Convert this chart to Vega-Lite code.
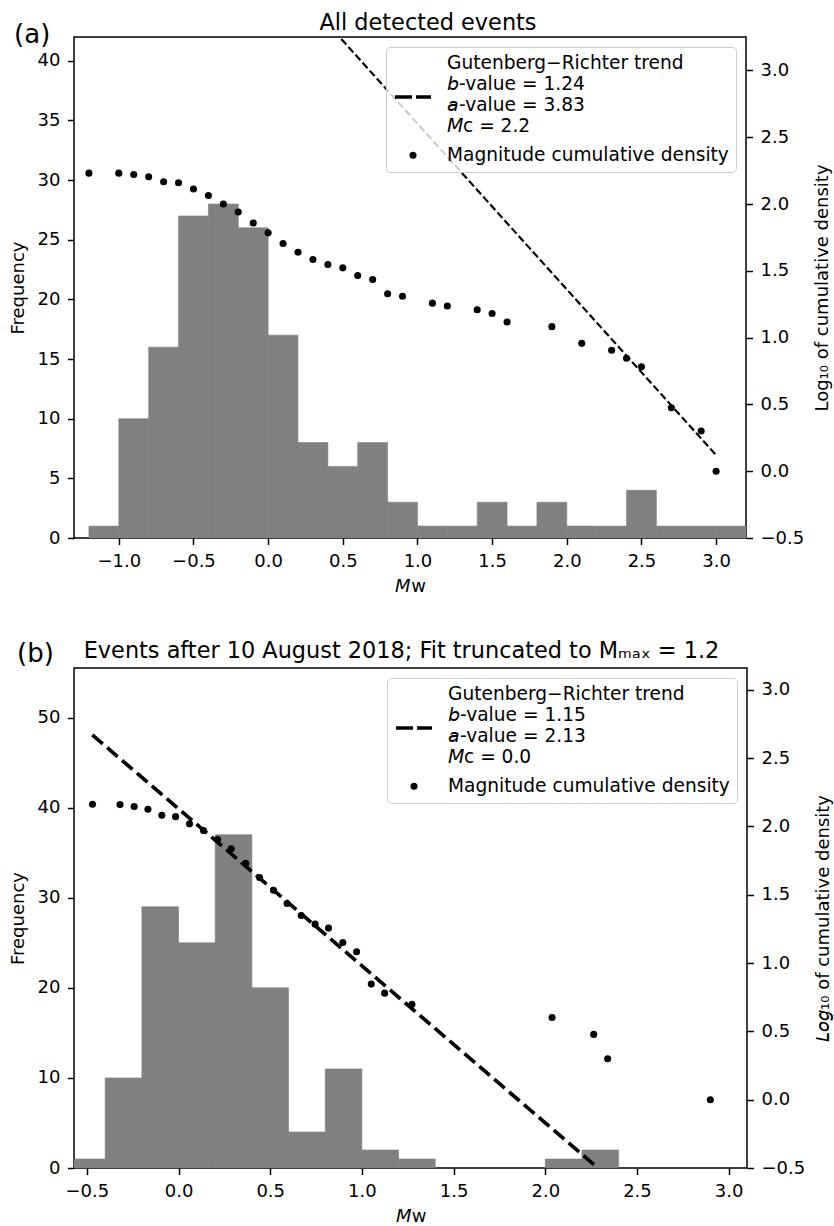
{
  "$schema": "https://vega.github.io/schema/vega-lite/v6.json",
  "background": "white",
  "padding": {"left": 8, "top": 11, "right": 5, "bottom": 5},
  "spacing": 43,
  "datasets": {
    "histA": [
      {"m0": -1.2, "m1": -1.0, "count": 1},
      {"m0": -1.0, "m1": -0.8, "count": 10},
      {"m0": -0.8, "m1": -0.6, "count": 16},
      {"m0": -0.6, "m1": -0.4, "count": 27},
      {"m0": -0.4, "m1": -0.2, "count": 28},
      {"m0": -0.2, "m1": 0.0, "count": 26},
      {"m0": 0.0, "m1": 0.2, "count": 17},
      {"m0": 0.2, "m1": 0.4, "count": 8},
      {"m0": 0.4, "m1": 0.6, "count": 6},
      {"m0": 0.6, "m1": 0.8, "count": 8},
      {"m0": 0.8, "m1": 1.0, "count": 3},
      {"m0": 1.0, "m1": 1.2, "count": 1},
      {"m0": 1.2, "m1": 1.4, "count": 1},
      {"m0": 1.4, "m1": 1.6, "count": 3},
      {"m0": 1.6, "m1": 1.8, "count": 1},
      {"m0": 1.8, "m1": 2.0, "count": 3},
      {"m0": 2.0, "m1": 2.2, "count": 1},
      {"m0": 2.2, "m1": 2.4, "count": 1},
      {"m0": 2.4, "m1": 2.6, "count": 4},
      {"m0": 2.6, "m1": 2.8, "count": 1},
      {"m0": 2.8, "m1": 3.0, "count": 1},
      {"m0": 3.0, "m1": 3.2, "count": 1}
    ],
    "ptsA": [
      {"m": -1.2, "logN": 2.231, "series": "mcd"},
      {"m": -1.0, "logN": 2.231, "series": "mcd"},
      {"m": -0.9, "logN": 2.221, "series": "mcd"},
      {"m": -0.8, "logN": 2.204, "series": "mcd"},
      {"m": -0.7, "logN": 2.166, "series": "mcd"},
      {"m": -0.6, "logN": 2.159, "series": "mcd"},
      {"m": -0.5, "logN": 2.112, "series": "mcd"},
      {"m": -0.4, "logN": 2.064, "series": "mcd"},
      {"m": -0.3, "logN": 2.000, "series": "mcd"},
      {"m": -0.2, "logN": 1.940, "series": "mcd"},
      {"m": -0.1, "logN": 1.858, "series": "mcd"},
      {"m": 0.0, "logN": 1.784, "series": "mcd"},
      {"m": 0.1, "logN": 1.704, "series": "mcd"},
      {"m": 0.2, "logN": 1.639, "series": "mcd"},
      {"m": 0.3, "logN": 1.584, "series": "mcd"},
      {"m": 0.4, "logN": 1.547, "series": "mcd"},
      {"m": 0.5, "logN": 1.522, "series": "mcd"},
      {"m": 0.6, "logN": 1.465, "series": "mcd"},
      {"m": 0.7, "logN": 1.435, "series": "mcd"},
      {"m": 0.8, "logN": 1.328, "series": "mcd"},
      {"m": 0.9, "logN": 1.310, "series": "mcd"},
      {"m": 1.1, "logN": 1.258, "series": "mcd"},
      {"m": 1.2, "logN": 1.236, "series": "mcd"},
      {"m": 1.4, "logN": 1.209, "series": "mcd"},
      {"m": 1.5, "logN": 1.181, "series": "mcd"},
      {"m": 1.6, "logN": 1.117, "series": "mcd"},
      {"m": 1.9, "logN": 1.082, "series": "mcd"},
      {"m": 2.1, "logN": 0.957, "series": "mcd"},
      {"m": 2.3, "logN": 0.905, "series": "mcd"},
      {"m": 2.4, "logN": 0.846, "series": "mcd"},
      {"m": 2.5, "logN": 0.781, "series": "mcd"},
      {"m": 2.7, "logN": 0.475, "series": "mcd"},
      {"m": 2.9, "logN": 0.301, "series": "mcd"},
      {"m": 3.0, "logN": 0.0, "series": "mcd"}
    ],
    "lineA": [
      {"m": 0.3, "logN": 3.47, "series": "gr"},
      {"m": 3.0, "logN": 0.12, "series": "gr"}
    ],
    "histB": [
      {"m0": -0.6, "m1": -0.4, "count": 1},
      {"m0": -0.4, "m1": -0.2, "count": 10},
      {"m0": -0.2, "m1": 0.0, "count": 29},
      {"m0": 0.0, "m1": 0.2, "count": 25},
      {"m0": 0.2, "m1": 0.4, "count": 37},
      {"m0": 0.4, "m1": 0.6, "count": 20},
      {"m0": 0.6, "m1": 0.8, "count": 4},
      {"m0": 0.8, "m1": 1.0, "count": 11},
      {"m0": 1.0, "m1": 1.2, "count": 2},
      {"m0": 1.2, "m1": 1.4, "count": 1},
      {"m0": 2.0, "m1": 2.2, "count": 1},
      {"m0": 2.2, "m1": 2.4, "count": 2}
    ],
    "ptsB": [
      {"m": -0.469, "logN": 2.162, "series": "mcd"},
      {"m": -0.319, "logN": 2.160, "series": "mcd"},
      {"m": -0.242, "logN": 2.146, "series": "mcd"},
      {"m": -0.167, "logN": 2.126, "series": "mcd"},
      {"m": -0.091, "logN": 2.082, "series": "mcd"},
      {"m": -0.016, "logN": 2.072, "series": "mcd"},
      {"m": 0.060, "logN": 2.019, "series": "mcd"},
      {"m": 0.136, "logN": 1.970, "series": "mcd"},
      {"m": 0.213, "logN": 1.904, "series": "mcd"},
      {"m": 0.287, "logN": 1.836, "series": "mcd"},
      {"m": 0.366, "logN": 1.731, "series": "mcd"},
      {"m": 0.442, "logN": 1.626, "series": "mcd"},
      {"m": 0.518, "logN": 1.533, "series": "mcd"},
      {"m": 0.592, "logN": 1.436, "series": "mcd"},
      {"m": 0.669, "logN": 1.348, "series": "mcd"},
      {"m": 0.745, "logN": 1.285, "series": "mcd"},
      {"m": 0.818, "logN": 1.256, "series": "mcd"},
      {"m": 0.896, "logN": 1.151, "series": "mcd"},
      {"m": 0.971, "logN": 1.083, "series": "mcd"},
      {"m": 1.051, "logN": 0.846, "series": "mcd"},
      {"m": 1.124, "logN": 0.780, "series": "mcd"},
      {"m": 1.273, "logN": 0.699, "series": "mcd"},
      {"m": 2.037, "logN": 0.602, "series": "mcd"},
      {"m": 2.264, "logN": 0.478, "series": "mcd"},
      {"m": 2.340, "logN": 0.300, "series": "mcd"},
      {"m": 2.900, "logN": 0.0, "series": "mcd"}
    ],
    "lineB": [
      {"m": -0.47, "logN": 2.67, "series": "gr"},
      {"m": 2.287, "logN": -0.5, "series": "gr"}
    ],
    "labelA": [{"label": "(a)"}],
    "labelB": [{"label": "(b)"}]
  },
  "vconcat": [
    {
      "width": 672,
      "height": 501,
      "title": {"text": "All detected events", "frame": "group", "offset": -13, "dx": 18},
      "layer": [
        {
          "layer": [
            {
              "data": {"name": "histA"},
              "mark": {"type": "rect", "color": "#808080", "stroke": "#808080", "strokeWidth": 0.6, "clip": true},
              "encoding": {
                "x": {"field": "m0", "type": "quantitative", "scale": {"domain": [-1.3, 3.2], "nice": false, "zero": false},
                      "axis": {"values": [-1, -0.5, 0, 0.5, 1, 1.5, 2, 2.5, 3], "format": ".1f", "title": "𝘔w", "titlePadding": 7}},
                "x2": {"field": "m1"},
                "y": {"field": "count", "type": "quantitative", "scale": {"domain": [0, 42], "nice": false},
                      "axis": {"orient": "left", "values": [0, 5, 10, 15, 20, 25, 30, 35, 40], "format": "d", "title": "Frequency"}},
                "y2": {"datum": 0}
              }
            },
            {
              "data": {"name": "labelA"},
              "mark": {"type": "text", "fontSize": 26, "align": "center", "baseline": "middle", "color": "black"},
              "encoding": {
                "x": {"datum": -1.58, "type": "quantitative", "scale": {"domain": [-1.3, 3.2], "nice": false, "zero": false}},
                "y": {"datum": 42.2, "type": "quantitative", "scale": {"domain": [0, 42], "nice": false}},
                "text": {"field": "label"}
              }
            }
          ]
        },
        {
          "layer": [
            {
              "data": {"name": "lineA"},
              "mark": {"type": "line", "strokeDash": [7.4, 3.2], "strokeWidth": 2.2, "clip": true},
              "encoding": {
                "x": {"field": "m", "type": "quantitative", "scale": {"domain": [-1.3, 3.2], "nice": false, "zero": false}},
                "y": {"field": "logN", "type": "quantitative", "scale": {"domain": [-0.5, 3.25], "nice": false, "zero": false},
                      "axis": {"orient": "right", "values": [-0.5, 0, 0.5, 1, 1.5, 2, 2.5, 3], "format": ".1f", "title": "Log₁₀ of cumulative density", "titleAngle": 270, "titleBaseline": "top"}},
                "color": {"field": "series", "type": "nominal", "scale": {"domain": ["gr", "mcd"], "range": ["black", "black"]},
                  "legend": {
                    "labelExpr": "datum.value == 'gr' ? ['Gutenberg−Richter trend', '𝘣-value = 1.24', '𝘢-value = 3.83', '𝘔c = 2.2'] : 'Magnitude cumulative density'",
                    "encode": {
                      "symbols": {"update": {
                        "x": {"value": 20},
                        "y": {"signal": "datum.value == 'gr' ? 43 : 9.3"},
                        "shape": {"signal": "datum.value == 'gr' ? 'stroke' : 'circle'"},
                        "size": {"signal": "datum.value == 'gr' ? 1296 : 49"},
                        "strokeWidth": {"signal": "datum.value == 'gr' ? 3.5 : 0"},
                        "strokeDash": {"signal": "datum.value == 'gr' ? [17, 4] : [1, 0]"},
                        "stroke": {"value": "black"},
                        "fill": {"value": "black"},
                        "opacity": {"value": 1}
                      }},
                      "labels": {"update": {
                        "x": {"value": 54},
                        "y": {"value": 9.3},
                        "baseline": {"value": "middle"},
                        "lineHeight": {"value": 21}
                      }}
                    }
                  }
                }
              }
            },
            {
              "data": {"name": "ptsA"},
              "mark": {"type": "point", "filled": true, "shape": "circle", "size": 50, "opacity": 1},
              "encoding": {
                "x": {"field": "m", "type": "quantitative", "scale": {"domain": [-1.3, 3.2], "nice": false, "zero": false}},
                "y": {"field": "logN", "type": "quantitative", "scale": {"domain": [-0.5, 3.25], "nice": false, "zero": false}},
                "color": {"field": "series", "type": "nominal", "scale": {"domain": ["gr", "mcd"], "range": ["black", "black"]}}
              }
            }
          ]
        }
      ],
      "resolve": {"scale": {"y": "independent"}}
    },
    {
      "width": 673,
      "height": 500,
      "title": {"text": "Events after 10 August 2018; Fit truncated to Mₘₐₓ = 1.2", "frame": "group", "offset": -21, "dx": -9},
      "layer": [
        {
          "layer": [
            {
              "data": {"name": "histB"},
              "mark": {"type": "rect", "color": "#808080", "stroke": "#808080", "strokeWidth": 0.6, "clip": true},
              "encoding": {
                "x": {"field": "m0", "type": "quantitative", "scale": {"domain": [-0.57, 3.1], "nice": false, "zero": false},
                      "axis": {"values": [-0.5, 0, 0.5, 1, 1.5, 2, 2.5, 3], "format": ".1f", "title": "𝘔w", "titlePadding": 7}},
                "x2": {"field": "m1"},
                "y": {"field": "count", "type": "quantitative", "scale": {"domain": [0, 55.5], "nice": false},
                      "axis": {"orient": "left", "values": [0, 10, 20, 30, 40, 50], "format": "d", "title": "Frequency"}},
                "y2": {"datum": 0}
              }
            },
            {
              "data": {"name": "labelB"},
              "mark": {"type": "text", "fontSize": 26, "align": "center", "baseline": "middle", "color": "black"},
              "encoding": {
                "x": {"datum": -0.78, "type": "quantitative", "scale": {"domain": [-0.57, 3.1], "nice": false, "zero": false}},
                "y": {"datum": 57.0, "type": "quantitative", "scale": {"domain": [0, 55.5], "nice": false}},
                "text": {"field": "label"}
              }
            }
          ]
        },
        {
          "layer": [
            {
              "data": {"name": "lineB"},
              "mark": {"type": "line", "strokeDash": [13.7, 5.9], "strokeWidth": 3.7, "clip": true},
              "encoding": {
                "x": {"field": "m", "type": "quantitative", "scale": {"domain": [-0.57, 3.1], "nice": false, "zero": false}},
                "y": {"field": "logN", "type": "quantitative", "scale": {"domain": [-0.5, 3.16], "nice": false, "zero": false},
                      "axis": {"orient": "right", "values": [-0.5, 0, 0.5, 1, 1.5, 2, 2.5, 3], "format": ".1f", "title": "𝘓𝘰𝘨₁₀ of cumulative density", "titleAngle": 270, "titleBaseline": "top"}},
                "color": {"field": "series", "type": "nominal", "scale": {"domain": ["gr", "mcd"], "range": ["black", "black"]},
                  "legend": {
                    "labelExpr": "datum.value == 'gr' ? ['Gutenberg−Richter trend', '𝘣-value = 1.15', '𝘢-value = 2.13', '𝘔c = 0.0'] : 'Magnitude cumulative density'",
                    "encode": {
                      "symbols": {"update": {
                        "x": {"value": 20},
                        "y": {"signal": "datum.value == 'gr' ? 43 : 9.3"},
                        "shape": {"signal": "datum.value == 'gr' ? 'stroke' : 'circle'"},
                        "size": {"signal": "datum.value == 'gr' ? 1296 : 49"},
                        "strokeWidth": {"signal": "datum.value == 'gr' ? 3.5 : 0"},
                        "strokeDash": {"signal": "datum.value == 'gr' ? [17, 4] : [1, 0]"},
                        "stroke": {"value": "black"},
                        "fill": {"value": "black"},
                        "opacity": {"value": 1}
                      }},
                      "labels": {"update": {
                        "x": {"value": 54},
                        "y": {"value": 9.3},
                        "baseline": {"value": "middle"},
                        "lineHeight": {"value": 21}
                      }}
                    }
                  }
                }
              }
            },
            {
              "data": {"name": "ptsB"},
              "mark": {"type": "point", "filled": true, "shape": "circle", "size": 50, "opacity": 1},
              "encoding": {
                "x": {"field": "m", "type": "quantitative", "scale": {"domain": [-0.57, 3.1], "nice": false, "zero": false}},
                "y": {"field": "logN", "type": "quantitative", "scale": {"domain": [-0.5, 3.16], "nice": false, "zero": false}},
                "color": {"field": "series", "type": "nominal", "scale": {"domain": ["gr", "mcd"], "range": ["black", "black"]}}
              }
            }
          ]
        }
      ],
      "resolve": {"scale": {"y": "independent"}}
    }
  ],
  "resolve": {"scale": {"x": "independent", "y": "independent", "color": "independent"}, "legend": {"color": "independent"}},
  "config": {
    "font": "DejaVu Sans",
    "view": {"stroke": "black", "strokeWidth": 1.5},
    "axis": {
      "domain": false, "grid": false,
      "labelFont": "DejaVu Sans", "labelFontSize": 18, "labelColor": "black", "labelPadding": 7.5, "labelFlush": false, "labelOverlap": false,
      "titleFont": "DejaVu Sans", "titleFontSize": 18, "titleFontWeight": "normal", "titleColor": "black", "titlePadding": 10,
      "tickColor": "black", "tickWidth": 1.5, "tickSize": 6.5
    },
    "legend": {
      "orient": "top-right", "offset": 10, "padding": 7, "title": null,
      "fillColor": "rgba(255,255,255,0.8)", "strokeColor": "#cccccc", "cornerRadius": 4,
      "labelFont": "DejaVu Sans", "labelFontSize": 18.6, "labelColor": "black", "labelLimit": 500, "labelOffset": 16,
      "rowPadding": 10, "symbolType": "stroke", "symbolSize": 1296, "symbolStrokeWidth": 0
    },
    "title": {"font": "DejaVu Sans", "fontSize": 22.4, "fontWeight": "normal", "color": "black"}
  }
}
